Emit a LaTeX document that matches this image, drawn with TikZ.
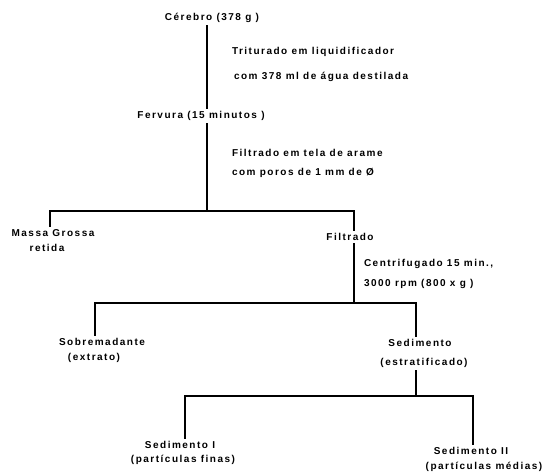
\documentclass[tikz,border=0pt]{standalone}
\usepackage{fontspec}
\setmainfont{Liberation Sans}[LetterSpace=15]
\tikzset{
  lbl/.style={font=\bfseries\fontsize{10}{12}\selectfont, inner sep=0pt, outer sep=4pt},
  ln/.style={line width=2.6pt, line cap=rect, line join=miter}
}
\begin{document}
\begin{tikzpicture}[x=1pt,y=-1pt]
\useasboundingbox (0,0) rectangle (551,471);
% text nodes
\node[lbl] (cer) at (212,18) {Cérebro (378 g )};
\node[lbl, anchor=west] (t1) at (228,52) {Triturado em liquidificador};
\node[lbl, anchor=west] (t2) at (230,77) {com 378 ml de água destilada};
\node[lbl] (fer) at (201,116) {Fervura (15 minutos )};
\node[lbl, anchor=west] (t3) at (228,153) {Filtrado em tela de arame};
\node[lbl, anchor=west] (t4) at (228,173) {com poros de 1 mm de Ø};
\node[lbl] (mg) at (53,233) {Massa Grossa};
\node[lbl] (ret) at (47,248) {retida};
\node[lbl] (fil) at (350,237) {Filtrado};
\node[lbl, anchor=west] (t5) at (360,264) {Centrifugado 15 min.,};
\node[lbl, anchor=west] (t6) at (360,284) {3000 rpm (800 x g )};
\node[lbl] (sob) at (102,342) {Sobremadante};
\node[lbl] (ext) at (94,358) {(extrato)};
\node[lbl] (sed) at (420,343) {Sedimento};
\node[lbl] (est) at (424,363) {(estratificado)};
\node[lbl] (s1) at (180,445) {Sedimento I};
\node[lbl] (f1) at (183,460) {(partículas finas)};
\node[lbl] (s2) at (471,451) {Sedimento II};
\node[lbl] (f2) at (484,467) {(partículas médias)};
% junction coordinates
\coordinate (xa) at (207,0);
\coordinate (xl1) at (50,0);
\coordinate (xr1) at (354,0);
\coordinate (xl2) at (95,0);
\coordinate (xr2) at (416,0);
\coordinate (xl3) at (185,0);
\coordinate (xr3) at (473,0);
\coordinate (b1) at (0,211);
\coordinate (b2) at (0,303);
\coordinate (b3) at (0,396);
% connectors
\draw[ln] (cer.south -| xa) -- (fer.north -| xa);
\draw[ln] (fer.south -| xa) -- (xa |- b1);
\draw[ln] (mg.north -| xl1) -- (xl1 |- b1) -- (xr1 |- b1) -- (fil.north -| xr1);
\draw[ln] (fil.south -| xr1) -- (xr1 |- b2);
\draw[ln] (sob.north -| xl2) -- (xl2 |- b2) -- (xr2 |- b2) -- (sed.north -| xr2);
\draw[ln] (est.south -| xr2) -- (xr2 |- b3);
\draw[ln] (s1.north -| xl3) -- (xl3 |- b3) -- (xr3 |- b3) -- (s2.north -| xr3);
\end{tikzpicture}
\end{document}
